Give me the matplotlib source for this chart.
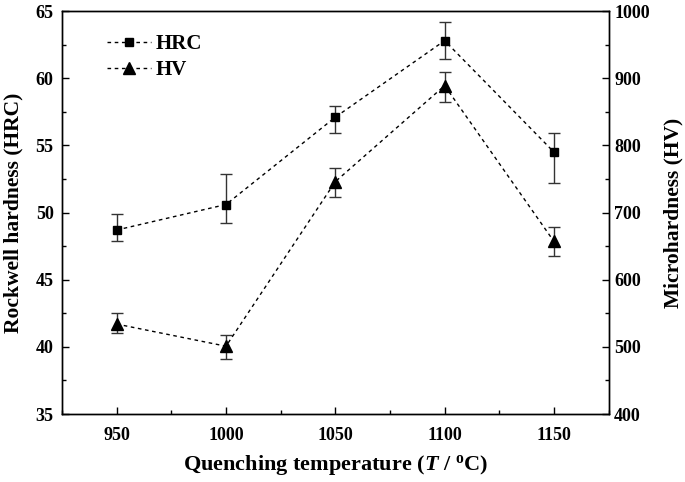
import matplotlib
matplotlib.use("Agg")
import matplotlib.pyplot as plt
from matplotlib.ticker import MultipleLocator
from matplotlib.lines import Line2D

plt.rcParams['font.family'] = ['Liberation Serif', 'DejaVu Serif']
plt.rcParams['font.weight'] = 'bold'
plt.rcParams['mathtext.fontset'] = 'custom'
plt.rcParams['mathtext.rm'] = 'Liberation Serif:bold'
plt.rcParams['mathtext.it'] = 'Liberation Serif:italic:bold'
plt.rcParams['mathtext.bf'] = 'Liberation Serif:bold'

temps = [950, 1000, 1050, 1100, 1150]
hrc = [48.7, 50.6, 57.1, 62.8, 54.5]
hrc_err_lo = [0.8, 1.4, 1.2, 1.4, 2.3]
hrc_err_hi = [1.2, 2.3, 0.8, 1.4, 1.4]
hv = [534, 501, 746, 889, 657]
hv_err_lo = [14, 19, 23, 25, 21]
hv_err_hi = [17, 16, 21, 21, 21]

fig = plt.figure(figsize=(6.85, 4.82), dpi=100)
ax = fig.add_axes([0.0905, 0.141, 0.798, 0.836])
ax2 = ax.twinx()

ax.errorbar(temps, hrc, yerr=[hrc_err_lo, hrc_err_hi], fmt='s', linestyle='--',
            color='black', ms=6, lw=1.0, elinewidth=1.0, ecolor='#333333',
            capsize=4, capthick=1.0, dashes=(2.6, 2.6))
ax2.errorbar(temps, hv, yerr=[hv_err_lo, hv_err_hi], fmt='^', linestyle='--',
             color='black', ms=8, lw=1.0, elinewidth=1.0, ecolor='#333333',
             capsize=4, capthick=1.0, dashes=(2.6, 2.6))

ax.set_xlim(925, 1175)
ax.set_ylim(35, 65)
ax2.set_ylim(400, 1000)

ax.xaxis.set_major_locator(MultipleLocator(50))
ax.xaxis.set_minor_locator(MultipleLocator(25))
ax.yaxis.set_major_locator(MultipleLocator(5))
ax.yaxis.set_minor_locator(MultipleLocator(2.5))
ax2.yaxis.set_major_locator(MultipleLocator(100))
ax2.yaxis.set_minor_locator(MultipleLocator(50))

for a in (ax, ax2):
    a.tick_params(which='major', direction='in', length=5, width=1, labelsize=13)
    a.tick_params(which='minor', direction='in', length=3, width=1)
    for s in a.spines.values():
        s.set_linewidth(1.0)
ax.tick_params(axis='x', which='both', top=False, pad=9)
ax.tick_params(axis='y', pad=6)
ax2.tick_params(axis='y', pad=4)

ax.set_xlabel(r'Quenching temperature ($\mathit{T}$ / $^{\mathrm{o}}$C)', fontsize=16, fontweight='bold', labelpad=7)
ax.set_ylabel('Rockwell hardness (HRC)', fontsize=15.5, fontweight='bold', labelpad=8.5)
ax2.set_ylabel('Microhardness (HV)', fontsize=15.5, fontweight='bold', labelpad=10)

h1 = Line2D([], [], color='black', marker='s', ms=6, lw=1.0, linestyle='--', dashes=(2.6, 2.6))
h2 = Line2D([], [], color='black', marker='^', ms=8, lw=1.0, linestyle='--', dashes=(2.6, 2.6))
leg = ax.legend([h1, h2], ['HRC', 'HV'], loc='upper left', bbox_to_anchor=(0.067, 0.964),
                frameon=False, fontsize=15, handlelength=2.1, labelspacing=0.3,
                handletextpad=0.25, borderaxespad=0)

fig.savefig('out.png', dpi=100)
